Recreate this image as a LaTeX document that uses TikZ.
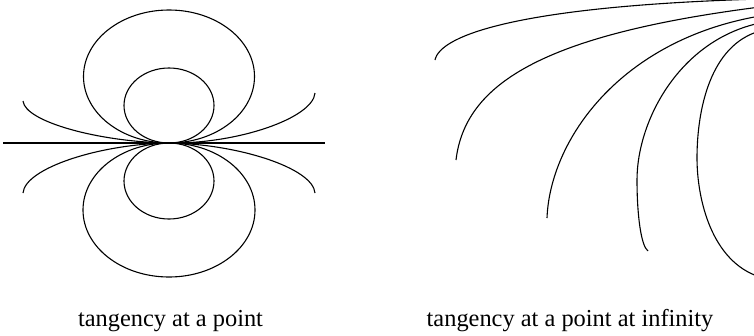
\documentclass[tikz,border=0pt]{standalone}
\usepackage{fontspec}
\setmainfont{Liberation Serif}
\begin{document}
\begin{tikzpicture}[x=1pt,y=-1pt,
  curve/.style={line width=1.1pt,black},
  lbl/.style={anchor=base,inner sep=0pt,font=\fontsize{24.4}{28}\selectfont}]
\useasboundingbox (0,0) rectangle (754,335);
% left figure: tangency at a point
\coordinate (P) at (169,143);
\draw[curve] (3,143) -- (325,143);
\draw[curve] (169,76.5) ellipse [x radius=85.5, y radius=66.5];
\draw[curve] (169,210) ellipse [x radius=86, y radius=67];
\draw[curve] (169,105.5) ellipse [x radius=45, y radius=37.5];
\draw[curve] (169,181) ellipse [x radius=45, y radius=38];
\draw[curve] (23,101) .. controls (25,122) and (100,142) .. (P);
\draw[curve] (23,193) .. controls (25,168) and (100,144) .. (P);
\draw[curve] (315,93) .. controls (313,118) and (238,144) .. (P);
\draw[curve] (315,193) .. controls (313,168) and (238,144) .. (P);
% right figure: tangency at a point at infinity
\begin{scope}
\clip (0,0) rectangle (754,335);
\draw[curve] (435,60) .. controls (440,35) and (520,6) .. (760,-1);
\draw[curve] (456,160) .. controls (465,85) and (540,35) .. (760,7);
\draw[curve] (547,218) .. controls (550,140) and (620,40) .. (760,16);
\draw[curve] (648,251) .. controls (641,246) and (637,215) .. (637,180)
  .. controls (637,120) and (680,40) .. (760,23);
\draw[curve] (760,31) .. controls (710,45) and (697,110) .. (697,158)
  .. controls (697,200) and (712,262) .. (760,277);
\end{scope}
% labels
\node[lbl] (l1) at (170.5,326) {tangency at a point};
\node[lbl] (l2) at (570,326) {tangency at a point at infinity};
\end{tikzpicture}
\end{document}
